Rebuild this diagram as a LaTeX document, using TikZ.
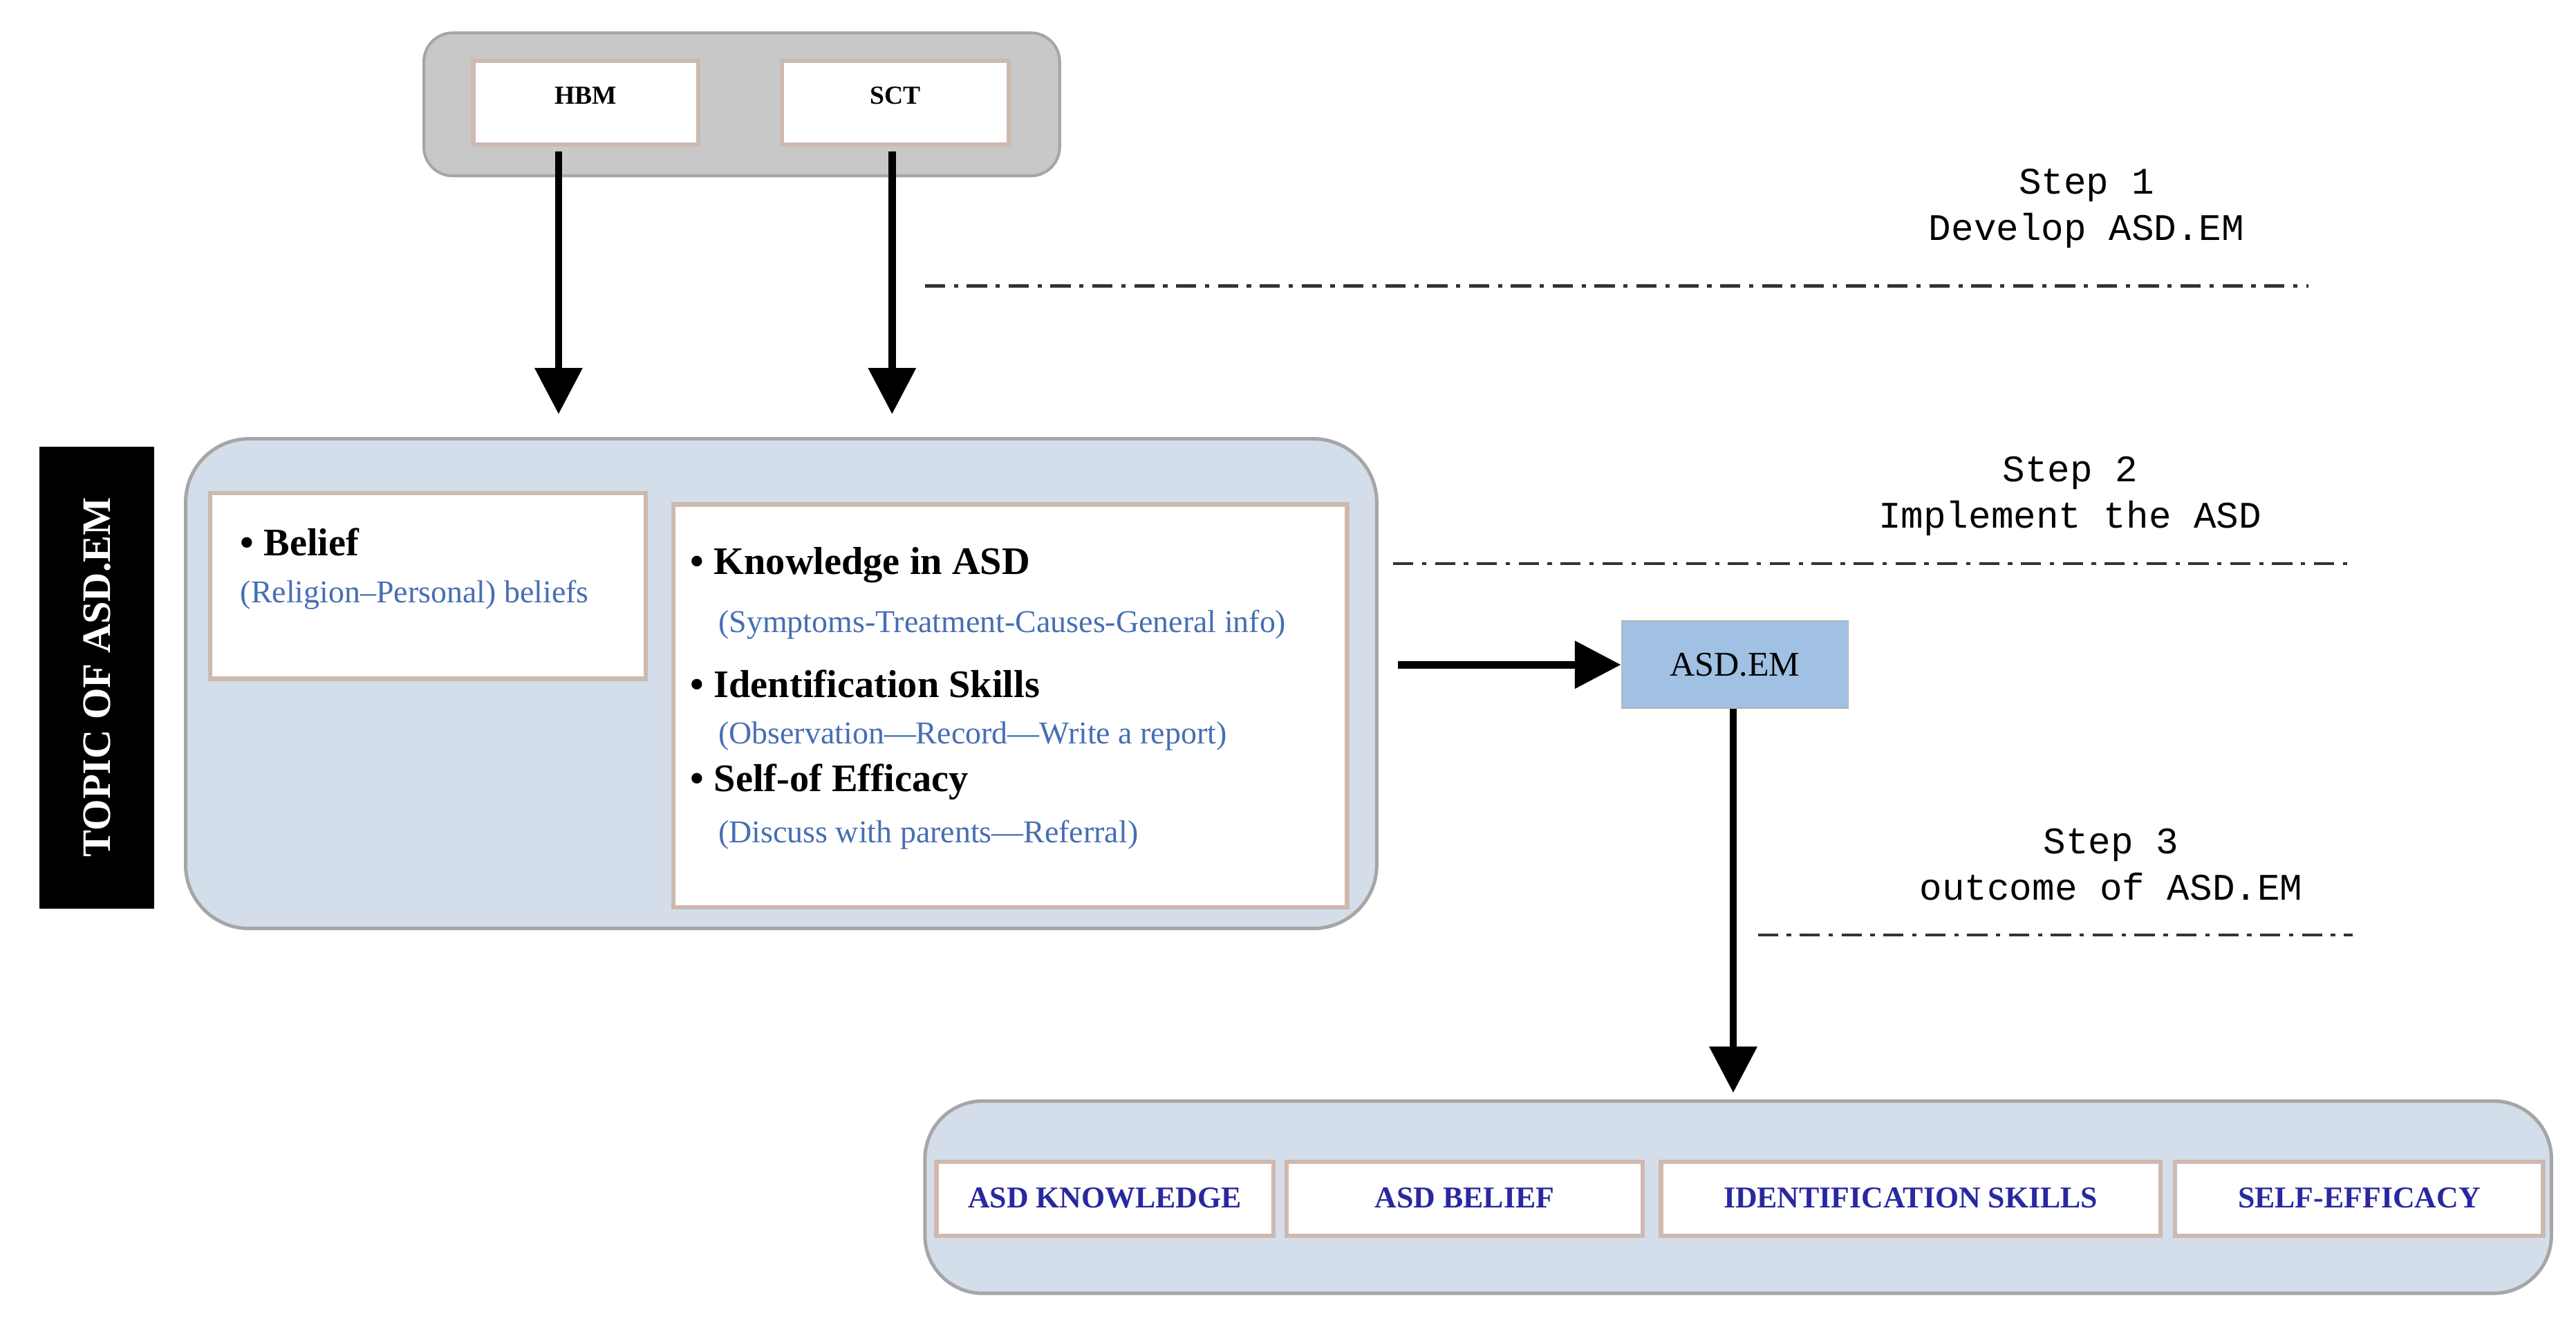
\documentclass[tikz,border=0pt]{standalone}
\usepackage{fontspec}
\setmainfont{Liberation Serif}
\newfontfamily\monof{Liberation Mono}
\usetikzlibrary{arrows.meta}
\definecolor{panel}{RGB}{212,222,234}
\definecolor{topgray}{RGB}{200,200,200}
\definecolor{subblue}{RGB}{70,110,180}
\definecolor{labblue}{RGB}{40,40,160}
\definecolor{emblue}{RGB}{160,192,228}
\definecolor{boxedge}{RGB}{205,185,175}
\begin{document}
\begin{tikzpicture}[x=0.02cm,y=-0.02cm,
  panelbox/.style={draw=gray!70,line width=1.2pt,fill=panel,rounded corners=14pt},
  wbox/.style={draw=boxedge,line width=1.5pt,fill=white},
  bigarrow/.style={line width=2.6pt,-{Triangle[length=16pt,width=16pt]}},
  stepline/.style={line width=1pt,black!80,dash pattern=on 7pt off 3pt on 1.5pt off 3pt},
  steptxt/.style={font=\monof\fontsize{13}{16}\selectfont,align=center},
  sub/.style={text=subblue,font=\fontsize{11}{13}\selectfont,anchor=west,inner sep=0},
  head/.style={font=\bfseries\fontsize{13.5}{16}\selectfont,anchor=west,inner sep=0},
  lab/.style={text=labblue,font=\bfseries\fontsize{10.5}{12}\selectfont}]
\useasboundingbox (0,0) rectangle (1568,806);
% top
\draw[draw=gray!70,fill=topgray,rounded corners=10pt,line width=1pt] (258,20) rectangle (645,107);
\draw[wbox] (288,37) rectangle (425,88);
\draw[wbox] (476,37) rectangle (614,88);
\node[font=\bfseries\fontsize{9}{10}\selectfont] (hbm) at (356.5,58) {HBM};
\node[font=\bfseries\fontsize{9}{10}\selectfont] (sct) at (545,58) {SCT};
\coordinate (hbmS) at (340,92); \coordinate (hbmE) at (340,252);
\coordinate (sctS) at (543,92); \coordinate (sctE) at (543,252);
\draw[bigarrow] (hbmS) -- (hbmE);
\draw[bigarrow] (sctS) -- (sctE);
% steps
\node[steptxt] (s1) at (1270,127) {Step 1\\Develop ASD.EM};
\node[steptxt] (s2) at (1260,302) {Step 2\\Implement the ASD};
\node[steptxt] (s3) at (1285,526) {Step 3\\outcome of ASD.EM};
\coordinate (l1a) at (563,174); \coordinate (l1b) at (1405,174);
\coordinate (l2a) at (848,343); \coordinate (l2b) at (1432,343);
\coordinate (l3a) at (1070,569); \coordinate (l3b) at (1432,569);
\draw[stepline] (l1a) -- (l1b);
\draw[stepline] (l2a) -- (l2b);
\draw[stepline] (l3a) -- (l3b);
% topic bar
\fill[black] (24,272) rectangle (94,553);
\node[rotate=90,text=white,font=\bfseries\fontsize{14}{16}\selectfont] (topic) at (59,412) {TOPIC OF ASD.EM};
% main panel
\draw[panelbox,rounded corners=22pt] (113,267) rectangle (838,565);
\draw[wbox] (128,300) rectangle (393,413);
\draw[wbox] (410,307) rectangle (820,552);
\node[head] (belief) at (146,330) {\textbullet\ Belief};
\node[sub] (beliefs) at (146,362) {(Religion–Personal) beliefs};
\node[head] (know) at (420,344) {\textbullet\ Knowledge in ASD};
\node[sub] (knows) at (437,380) {(Symptoms-Treatment-Causes-General info)};
\node[head] (ident) at (420,416) {\textbullet\ Identification Skills};
\node[sub] (idents) at (437,448) {(Observation—Record—Write a report)};
\node[head] (self) at (420,476) {\textbullet\ Self-of Efficacy};
\node[sub] (selfs) at (437,508) {(Discuss with parents—Referral)};
% ASD.EM
\node[draw=gray!60,fill=emblue,minimum width=138*0.02cm,minimum height=53*0.02cm,font=\fontsize{12}{14}\selectfont] (em) at (1056,404.5) {ASD.EM};
\coordinate (pr) at (851,404.5);
\draw[bigarrow] (pr) -- (em.west);
\coordinate (emE) at (1055,665);
\draw[bigarrow] (em.south -| emE) -- (emE);
% bottom
\draw[panelbox,rounded corners=20pt] (563,670) rectangle (1553,787);
\draw[wbox] (570,707) rectangle (775,752);
\draw[wbox] (783,707) rectangle (1000,752);
\draw[wbox] (1011,707) rectangle (1315,752);
\draw[wbox] (1324,707) rectangle (1548,752);
\node[lab] (b1) at (672.5,729) {ASD KNOWLEDGE};
\node[lab] (b2) at (891.5,729) {ASD BELIEF};
\node[lab] (b3) at (1163,729) {IDENTIFICATION SKILLS};
\node[lab] (b4) at (1436,729) {SELF-EFFICACY};
\end{tikzpicture}
\end{document}
